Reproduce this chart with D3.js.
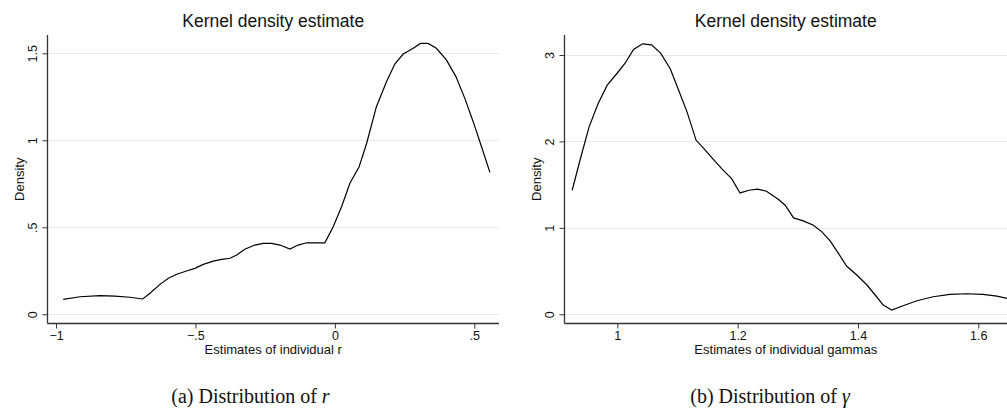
<!DOCTYPE html>
<html>
<head>
<meta charset="utf-8">
<script src="https://cdn.jsdelivr.net/npm/d3@7"></script>
<style>
  body { margin: 0; background: #fff; }
  svg text { font-family: "Liberation Sans", Arial, sans-serif; fill: #111; }
  .grid line { stroke: #e8e8e8; stroke-width: 1; }
  .axis path { display: none; }
  .axis line { stroke: #333; }
  .frame { stroke: #333; stroke-width: 1.3; }
  .curve { fill: none; stroke: #000; stroke-width: 1.2; }
  .caption { font-family: "Liberation Serif", "Times New Roman", serif; font-size: 20px; }
</style>
</head>
<body>
<script>
// estimates of individual r (panel a)
var rX = [-0.974, -0.914, -0.842, -0.789, -0.735, -0.689, -0.663, -0.627, -0.597, -0.567,
  -0.532, -0.502, -0.472, -0.436, -0.406, -0.376, -0.352, -0.323, -0.287, -0.257,
  -0.227, -0.197, -0.161, -0.132, -0.101, -0.072, -0.036, -0.006, 0.024, 0.054,
  0.087, 0.114, 0.149, 0.185, 0.215, 0.245, 0.281, 0.307, 0.334, 0.364,
  0.400, 0.434, 0.466, 0.496, 0.526, 0.556];
var rDens = [0.086, 0.101, 0.107, 0.105, 0.098, 0.088, 0.121, 0.172, 0.207, 0.230,
  0.249, 0.264, 0.287, 0.306, 0.316, 0.322, 0.341, 0.374, 0.398, 0.408,
  0.408, 0.398, 0.375, 0.398, 0.411, 0.411, 0.411, 0.503, 0.618, 0.753,
  0.848, 0.983, 1.193, 1.337, 1.438, 1.496, 1.529, 1.557, 1.557, 1.529,
  1.462, 1.366, 1.241, 1.107, 0.963, 0.816];

// estimates of individual gammas (panel b)
var gX = [0.925, 0.938, 0.953, 0.968, 0.983, 0.999, 1.013, 1.027, 1.042, 1.057,
  1.072, 1.088, 1.101, 1.116, 1.131, 1.144, 1.160, 1.175, 1.190, 1.204,
  1.219, 1.233, 1.248, 1.268, 1.279, 1.293, 1.309, 1.326, 1.340, 1.354,
  1.367, 1.381, 1.398, 1.415, 1.431, 1.442, 1.456, 1.475, 1.498, 1.525,
  1.553, 1.581, 1.608, 1.631, 1.648];
var gDens = [1.435, 1.782, 2.166, 2.436, 2.648, 2.783, 2.905, 3.063, 3.129, 3.118,
  3.021, 2.841, 2.610, 2.339, 2.013, 1.917, 1.790, 1.674, 1.570, 1.404,
  1.435, 1.447, 1.424, 1.328, 1.262, 1.115, 1.081, 1.031, 0.954, 0.846,
  0.711, 0.558, 0.454, 0.339, 0.203, 0.107, 0.050, 0.099, 0.157, 0.203,
  0.231, 0.238, 0.231, 0.211, 0.185];

var rTicks = [-1, -0.5, 0, 0.5];
var rTickLabels = ["\u22121", "\u2212.5", "0", ".5"];
var rYTicks = [0, 0.5, 1, 1.5];
var rYTickLabels = ["0", ".5", "1", "1.5"];
var gTicks = [1, 1.2, 1.4, 1.6];
var gTickLabels = ["1", "1.2", "1.4", "1.6"];
var gYTicks = [0, 1, 2, 3];
var gYTickLabels = ["0", "1", "2", "3"];

var W = 1007, H = 410;
var svg = d3.select("body").append("svg")
  .attr("width", W)
  .attr("height", H);

var panel = function(p) {
  var g = svg.append("g");
  // scales are pinned on the outer tick values
  var x = d3.scaleLinear().domain(p.xDom).range(p.xRange);
  var y = d3.scaleLinear().domain(p.yDom).range(p.yRange);

  // gridlines
  g.append("g").attr("class", "grid")
    .selectAll("line")
    .data(p.yTicks)
    .enter()
      .append("line")
      .attr("x1", p.axisX)
      .attr("x2", p.plotRight)
      .attr("y1", (d) => Math.round(y(d)) + 0.5)
      .attr("y2", (d) => Math.round(y(d)) + 0.5);

  // curve
  var pts = p.xs.map((v, i) => [v, p.ys[i]]);
  var line = d3.line()
    .x((d) => x(d[0]))
    .y((d) => y(d[1]));
  g.append("path")
    .datum(pts)
    .attr("class", "curve")
    .attr("d", line);

  // x axis
  var xa = g.append("g")
    .attr("class", "axis")
    .attr("transform", "translate(0," + p.axisY + ")")
    .call(d3.axisBottom(x).tickValues(p.xTicks).tickSize(5).tickPadding(3)
      .tickFormat((d, i) => p.xTickLabels[i]));
  xa.selectAll("text").style("font-size", "12.5px");

  // y axis, labels turned like stata does
  var ya = g.append("g")
    .attr("class", "axis")
    .attr("transform", "translate(" + p.axisX + ",0)")
    .call(d3.axisLeft(y).tickValues(p.yTicks).tickSize(5).tickFormat((d, i) => p.yTickLabels[i]));
  ya.selectAll("text")
    .style("font-size", "12.5px")
    .attr("x", null)
    .attr("dy", null)
    .attr("text-anchor", "middle")
    .attr("transform", "translate(-11,0) rotate(-90)");

  // left + bottom frame
  g.append("line").attr("class", "frame")
    .attr("x1", p.axisX).attr("x2", p.axisX)
    .attr("y1", p.plotTop).attr("y2", p.axisY);
  g.append("line").attr("class", "frame")
    .attr("x1", p.axisX).attr("x2", p.plotRight)
    .attr("y1", p.axisY).attr("y2", p.axisY);

  // titles
  var mid = (p.axisX + p.plotRight) / 2;
  g.append("text")
    .attr("x", mid)
    .attr("y", 27)
    .attr("text-anchor", "middle")
    .style("font-size", "17.5px")
    .text("Kernel density estimate");
  g.append("text")
    .attr("x", mid)
    .attr("y", 354)
    .attr("text-anchor", "middle")
    .style("font-size", "13px")
    .text(p.xLabel);
  g.append("text")
    .attr("transform", "translate(" + (p.axisX - 24) + "," + ((p.plotTop + p.axisY) / 2) + ") rotate(-90)")
    .attr("text-anchor", "middle")
    .style("font-size", "13px")
    .text("Density");

  // caption
  var cap = svg.append("text")
    .attr("class", "caption")
    .attr("x", p.capX)
    .attr("y", 403)
    .attr("text-anchor", "middle");
  cap.append("tspan").text(p.capText);
  cap.append("tspan").style("font-style", "italic").text(p.capSym);
};

panel({
  xs: rX, ys: rDens,
  xDom: [-1, 0.5], xRange: [56, 474.3],
  yDom: [0, 1.5], yRange: [314.3, 53.3],
  axisX: 47.5, axisY: 323.5, plotTop: 35, plotRight: 499,
  xTicks: rTicks, xTickLabels: rTickLabels,
  yTicks: rYTicks, yTickLabels: rYTickLabels,
  xLabel: "Estimates of individual r",
  capX: 250.5, capText: "(a) Distribution of ", capSym: "r"
});

panel({
  xs: gX, ys: gDens,
  xDom: [1, 1.6], xRange: [617.3, 978.3],
  yDom: [0, 3], yRange: [314.3, 55],
  axisX: 564.5, axisY: 323.5, plotTop: 35, plotRight: 1007,
  xTicks: gTicks, xTickLabels: gTickLabels,
  yTicks: gYTicks, yTickLabels: gYTickLabels,
  xLabel: "Estimates of individual gammas",
  capX: 770, capText: "(b) Distribution of ", capSym: "\u03b3"
});
</script>
</body>
</html>
